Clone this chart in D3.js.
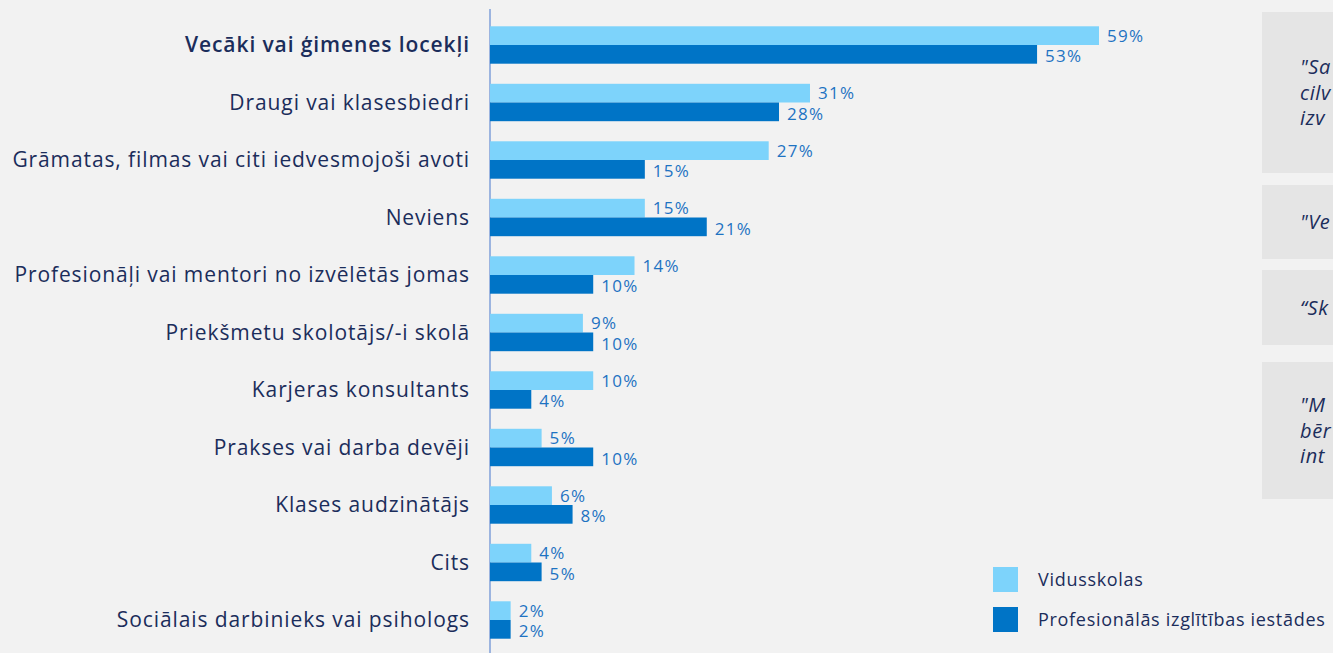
<!DOCTYPE html>
<html>
<head>
<meta charset="utf-8">
<script src="https://cdn.jsdelivr.net/npm/d3@7"></script>
<style>
  html, body { margin: 0; padding: 0; background: #f2f2f2; overflow: hidden; }
  svg { display: block; font-family: "Open Sans", "Noto Sans", sans-serif; }
</style>
</head>
<body>
<div id="chart"></div>
<script>
// categories, top to bottom
var categories = [
  "Vecāki vai ģimenes locekļi",
  "Draugi vai klasesbiedri",
  "Grāmatas, filmas vai citi iedvesmojoši avoti",
  "Neviens",
  "Profesionāļi vai mentori no izvēlētās jomas",
  "Priekšmetu skolotājs/-i skolā",
  "Karjeras konsultants",
  "Prakses vai darba devēji",
  "Klases audzinātājs",
  "Cits",
  "Sociālais darbinieks vai psihologs"
];
var seriesNames = ["Vidusskolas", "Profesionālās izglītības iestādes"];
var vidusskolas = [59, 31, 27, 15, 14, 9, 10, 5, 6, 4, 2];
var profesionalas = [53, 28, 15, 21, 10, 10, 4, 10, 8, 5, 2];

// quote boxes on the right (cut off by the page edge)
var quotes = [
  ["\"Sa", "cilv", "izv"],
  ["\"Ve"],
  ["“Sk"],
  ["\"M", "bēr", "int"]
];

var width = 1333, height = 653;
var colors = ["#7dd3fb", "#0074c6"];
var navy = "#1b2d5b";

var svg = d3.select("#chart").append("svg")
    .attr("width", width)
    .attr("height", height);

svg.append("rect").attr("width", width).attr("height", height).attr("fill", "#f2f2f2");

// scales
var x = d3.scaleLinear().domain([0, 59]).range([490, 1099]);
var y = d3.scaleBand().domain(categories).range([16.25, 648.75]);
var barH = 18.7;

// quote boxes
var boxes = [[12, 173], [185, 259], [270, 345], [362, 499]];
boxes.forEach(function(b, i) {
  svg.append("rect")
      .attr("x", 1262).attr("y", b[0])
      .attr("width", 100).attr("height", b[1] - b[0])
      .attr("fill", "#e5e5e5");
  var lines = quotes[i];
  var mid = (b[0] + b[1]) / 2;
  var t = svg.append("text")
      .attr("x", 1300)
      .attr("font-size", 20)
      .attr("letter-spacing", 0.6)
      .attr("font-style", "italic")
      .attr("fill", navy);
  lines.forEach(function(l, j) {
    t.append("tspan")
        .attr("x", 1300)
        .attr("y", mid + (j - (lines.length - 1) / 2) * 25.5)
        .attr("dy", "0.35em")
        .text(l);
  });
});

// axis line
svg.append("line")
    .attr("x1", 490).attr("x2", 490)
    .attr("y1", 9).attr("y2", height)
    .attr("stroke", "#7f9fd9")
    .attr("stroke-width", 1.5);

var rows = svg.selectAll("g.row")
    .data(categories)
    .enter().append("g")
    .attr("class", "row");

// category labels
rows.append("text")
    .attr("x", 470)
    .attr("y", function(d) { return y(d) + y.bandwidth() / 2; })
    .attr("dy", "0.35em")
    .attr("text-anchor", "end")
    .attr("font-size", 21)
    .attr("letter-spacing", 0.9)
    .attr("font-weight", function(d, i) { return i === 0 ? 600 : 400; })
    .attr("fill", navy)
    .text(function(d) { return d; });

var series = [vidusskolas, profesionalas];
series.forEach(function(vals, s) {
  rows.append("rect")
      .attr("x", x(0))
      .attr("y", function(d) { return y(d) + y.bandwidth() / 2 - barH + s * barH; })
      .attr("width", function(d, i) { return x(vals[i]) - x(0); })
      .attr("height", barH)
      .attr("fill", colors[s]);

  rows.append("text")
      .attr("x", function(d, i) { return x(vals[i]) + 8; })
      .attr("y", function(d) { return y(d) + y.bandwidth() / 2 - barH / 2 + s * (barH + 2); })
      .attr("dy", "0.35em")
      .attr("font-size", 17)
      .attr("letter-spacing", 1.3)
      .attr("fill", "#1e73c2")
      .text(function(d, i) { return vals[i] + "%"; });
});

// legend
var legend = svg.selectAll("g.legend")
    .data(seriesNames)
    .enter().append("g")
    .attr("class", "legend")
    .attr("transform", function(d, i) { return "translate(993," + (567 + i * 40) + ")"; });

legend.append("rect")
    .attr("width", 25).attr("height", 25)
    .attr("fill", function(d, i) { return colors[i]; });

legend.append("text")
    .attr("x", 45).attr("y", 12.5)
    .attr("dy", "0.35em")
    .attr("font-size", 18)
    .attr("letter-spacing", 0.7)
    .attr("fill", navy)
    .text(function(d) { return d; });
</script>
</body>
</html>
